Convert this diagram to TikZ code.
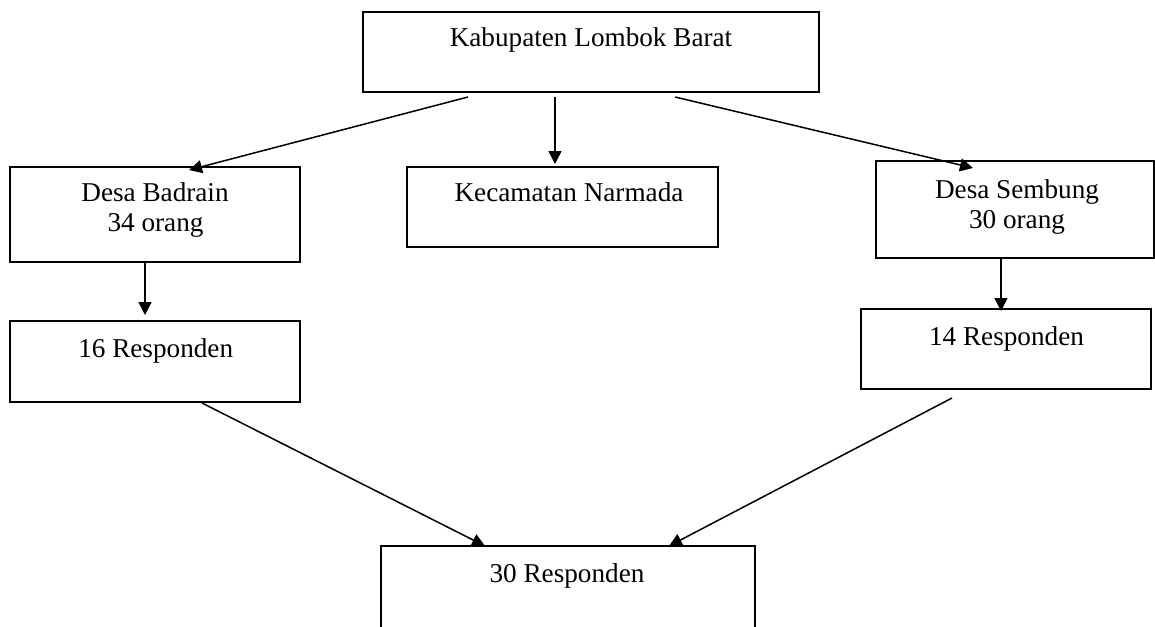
\documentclass[tikz,border=0pt]{standalone}
\usepackage{fontspec}
\setmainfont{Liberation Serif}
\usetikzlibrary{arrows.meta,calc}
\tikzset{
  box/.style={draw=black, line width=1.8pt, fill=white, rectangle, inner sep=0pt, outer sep=0pt},
  txt/.style={inner sep=0pt, outer sep=0pt, anchor=base, font=\fontsize{27.2pt}{30pt}\selectfont},
  conn/.style={draw=black, line width=1.5pt, -{Triangle[length=13pt,width=13pt]}}
}
\begin{document}
\begin{tikzpicture}[x=1pt,y=-1pt]
\useasboundingbox (0,0) rectangle (1155,626);
\clip (0,0) rectangle (1155,626);
\fill[white] (0,0) rectangle (1155,626);
% boxes
\node[box, minimum width=456pt, minimum height=80pt] (kab) at (591,52) {};
\node[box, minimum width=290pt, minimum height=95pt] (bad) at (155,214.5) {};
\node[box, minimum width=311pt, minimum height=80pt] (kec) at (562.5,207) {};
\node[box, minimum width=278pt, minimum height=97pt] (sem) at (1015,209.5) {};
\node[box, minimum width=290pt, minimum height=81pt] (r16) at (155,361.5) {};
\node[box, minimum width=290pt, minimum height=80pt] (r14) at (1006,349) {};
\node[box, minimum width=374pt, minimum height=100pt] (r30) at (568,596) {};
% texts
\node[txt] (kabt) at (591,46.7) {Kabupaten Lombok Barat};
\node[txt] (bad1) at (155,201.7) {Desa Badrain};
\node[txt] (bad2) at (155.5,231.7) {34 orang};
\node[txt] (kect) at (569,201.7) {Kecamatan Narmada};
\node[txt] (sem1) at (1017,198.3) {Desa Sembung};
\node[txt] (sem2) at (1017,228.3) {30 orang};
\node[txt] (r16t) at (155.7,357.3) {16 Responden};
\node[txt] (r14t) at (1006.5,345) {14 Responden};
\node[txt] (r30t) at (567,582.7) {30 Responden};
% connectors
\draw[conn] ($(kab.south west)+(105,5)$) -- ($(bad.north west)+(179,3)$);
\draw[conn] ($(kab.south west)+(192,5)$) -- ($(kec.north west)+(148,-3)$);
\draw[conn] ($(kab.south east)+(-144,5)$) -- ($(sem.north west)+(97,7)$);
\draw[conn] ($(bad.south west)+(135,0)$) -- ($(r16.north west)+(135,-6)$);
\draw[conn] ($(sem.south west)+(125,0)$) -- ($(r14.north west)+(140,2)$);
\draw[conn] ($(r16.south west)+(192,1)$) -- ($(r30.north west)+(104,0)$);
\draw[conn] ($(r14.south west)+(91,9)$) -- ($(r30.north west)+(288,0)$);
\end{tikzpicture}
\end{document}
